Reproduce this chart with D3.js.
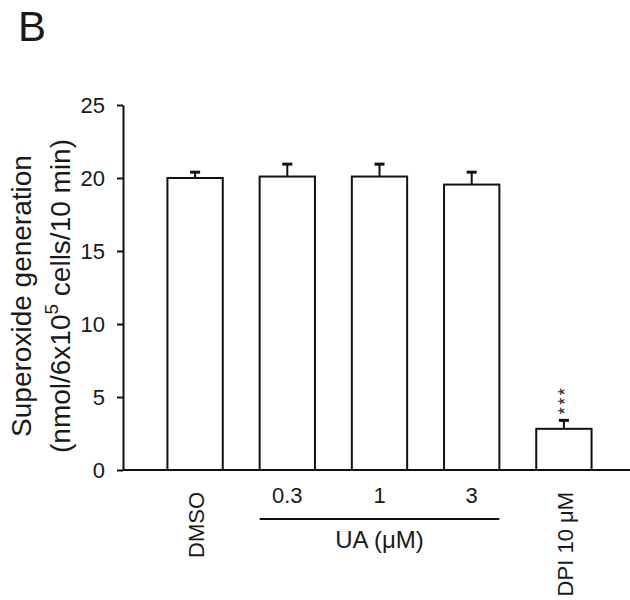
<!DOCTYPE html>
<html>
<head>
<meta charset="utf-8">
<script src="https://cdn.jsdelivr.net/npm/d3@7"></script>
<style>
  body { margin: 0; background: #fff; }
  svg { display: block; }
  text { font-family: Arial, "Liberation Sans", sans-serif; fill: #1a1a1a; }
</style>
</head>
<body>
<div id="chart"></div>
<script>
// groups along the x axis
const groups = ["DMSO", "0.3", "1", "3", "DPI 10 \u03bcM"];
// mean superoxide generation
const means = [20.0, 20.1, 20.1, 19.55, 2.82];
// upper error (mean + SEM)
const errTops = [20.4, 20.95, 20.95, 20.4, 3.4];
// significance marks
const marks = ["", "", "", "", "***"];
const yTicks = [0, 5, 10, 15, 20, 25];

let width = 630, height = 600;

let svg = d3.select("#chart").append("svg")
    .attr("width", width)
    .attr("height", height);

let x = d3.scaleBand()
    .domain(groups)
    .range([149, 610])
    .paddingInner(0.4)
    .paddingOuter(0.2);

let y = d3.scaleLinear()
    .domain([0, 25])
    .range([470, 105]);

// panel letter
svg.append("text")
    .attr("x", 18)
    .attr("y", 41)
    .style("font-size", "42px")
    .text("B");

// y axis
let yAxis = d3.axisLeft(y)
    .tickValues(yTicks)
    .tickSize(6)
    .tickSizeOuter(0)
    .tickPadding(12);

let gy = svg.append("g")
    .attr("transform", "translate(123,0)")
    .call(yAxis);
gy.select(".domain").attr("stroke", "#111").attr("stroke-width", 2);
gy.selectAll(".tick line").attr("stroke", "#111").attr("stroke-width", 2);
gy.selectAll(".tick text")
    .style("font-size", "22px")
    .style("font-family", "Arial, 'Liberation Sans', sans-serif")
    .attr("fill", "#1a1a1a");

// y axis title, two lines
let yTitle = svg.append("text")
    .attr("transform", "translate(31,296) rotate(-90)")
    .attr("text-anchor", "middle")
    .style("font-size", "28px");
yTitle.append("tspan").attr("x", 0).attr("y", 0).text("Superoxide generation");

let yTitle2 = svg.append("text")
    .attr("transform", "translate(70,296) rotate(-90)")
    .attr("text-anchor", "middle")
    .style("font-size", "28px");
yTitle2.append("tspan").text("(nmol/6x10");
yTitle2.append("tspan").attr("dy", -12).style("font-size", "19px").text("5");
yTitle2.append("tspan").attr("dy", 12).text(" cells/10 min)");

// bars
let bars = svg.append("g");
bars.selectAll("rect")
    .data(groups)
    .enter().append("rect")
    .attr("x", d => x(d))
    .attr("y", (d, i) => y(means[i]))
    .attr("width", x.bandwidth())
    .attr("height", (d, i) => y(0) - y(means[i]))
    .attr("fill", "#fff")
    .attr("stroke", "#111")
    .attr("stroke-width", 2);

// error bars (upper only)
let err = svg.append("g").attr("stroke", "#111");
groups.forEach((d, i) => {
    let cx = x(d) + x.bandwidth() / 2;
    err.append("line")
        .attr("x1", cx).attr("x2", cx)
        .attr("y1", y(means[i])).attr("y2", y(errTops[i]))
        .attr("stroke-width", 2);
    err.append("line")
        .attr("x1", cx - 5).attr("x2", cx + 5)
        .attr("y1", y(errTops[i])).attr("y2", y(errTops[i]))
        .attr("stroke-width", 3);
});

// significance stars, rotated like the labels
svg.append("g").selectAll("text")
    .data(groups)
    .enter().append("text")
    .attr("transform", (d, i) => "translate(" + (x(d) + x.bandwidth() / 2 + 7) + "," + (y(errTops[i]) - 6) + ") rotate(-90)")
    .style("font-size", "18px")
    .style("letter-spacing", "2.5px")
    .text((d, i) => marks[i]);

// x axis baseline
svg.append("line")
    .attr("x1", 123).attr("x2", 630)
    .attr("y1", y(0)).attr("y2", y(0))
    .attr("stroke", "#111")
    .attr("stroke-width", 2);

// category labels: DMSO and DPI rotated, doses horizontal
let rotated = [groups[0], groups[4]];
svg.append("g").selectAll("text")
    .data(rotated)
    .enter().append("text")
    .attr("transform", d => "translate(" + (x(d) + x.bandwidth() / 2 + 9) + ",492) rotate(-90)")
    .attr("text-anchor", "end")
    .style("font-size", "22px")
    .text(d => d);

let doses = groups.slice(1, 4);
svg.append("g").selectAll("text")
    .data(doses)
    .enter().append("text")
    .attr("x", d => x(d) + x.bandwidth() / 2)
    .attr("y", 503)
    .attr("text-anchor", "middle")
    .style("font-size", "22px")
    .text(d => d);

// bracket line under the UA doses
svg.append("line")
    .attr("x1", x(doses[0]))
    .attr("x2", x(doses[2]) + x.bandwidth())
    .attr("y1", 519).attr("y2", 519)
    .attr("stroke", "#111")
    .attr("stroke-width", 2);

svg.append("text")
    .attr("x", (x(doses[0]) + x(doses[2]) + x.bandwidth()) / 2)
    .attr("y", 548)
    .attr("text-anchor", "middle")
    .style("font-size", "24px")
    .text("UA (\u03bcM)");
</script>
</body>
</html>
